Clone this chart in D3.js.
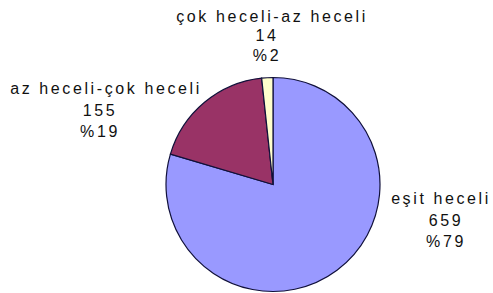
<!DOCTYPE html>
<html>
<head>
<meta charset="utf-8">
<script src="https://cdn.jsdelivr.net/npm/d3@7"></script>
<style>
  html, body { margin: 0; padding: 0; background: #fff; }
  svg { display: block; }
  text { font-family: "Liberation Sans", Arial, sans-serif; font-size: 16px; fill: #111; letter-spacing: 2.6px; }
</style>
</head>
<body>
<div id="chart"></div>
<script>
/* ---- data ---- */
const categories = ["eşit heceli", "az heceli-çok heceli", "çok heceli-az heceli"];
const counts = [659, 155, 14];
const percents = [79, 19, 2];
const colors = ["#9999FF", "#993366", "#FFFFCC"];

/* ---- setup ---- */
const width = 493, height = 293;
const cx = 273, cy = 184.5, radius = 107;

const svg = d3.select("#chart").append("svg")
    .attr("width", width)
    .attr("height", height);

const pie = d3.pie().sort(null).value(d => d);
const arc = d3.arc().innerRadius(0).outerRadius(radius);

const g = svg.append("g").attr("transform", `translate(${cx},${cy})`);

g.selectAll("path")
    .data(pie(counts))
    .join("path")
    .attr("d", arc)
    .attr("fill", (d, i) => colors[i])
    .attr("stroke", "#10103a")
    .attr("stroke-width", 1.2);

/* ---- labels: name / count / percent, placed beside each slice ---- */
const labelPos = [
    { tx: 441, nx: 446, y: [204, 226, 247] },
    { tx: 106, nx: 100, y: [94, 116, 137] },
    { tx: 272, nx: 267, y: [22, 41, 61] }
];

categories.forEach((name, i) => {
    const p = labelPos[i];
    const lines = [name, String(counts[i]), "%" + percents[i]];
    lines.forEach((t, j) => {
        svg.append("text")
            .attr("x", j === 0 ? p.tx : p.nx)
            .attr("y", p.y[j])
            .attr("text-anchor", "middle")
            .text(t);
    });
});
</script>
</body>
</html>
